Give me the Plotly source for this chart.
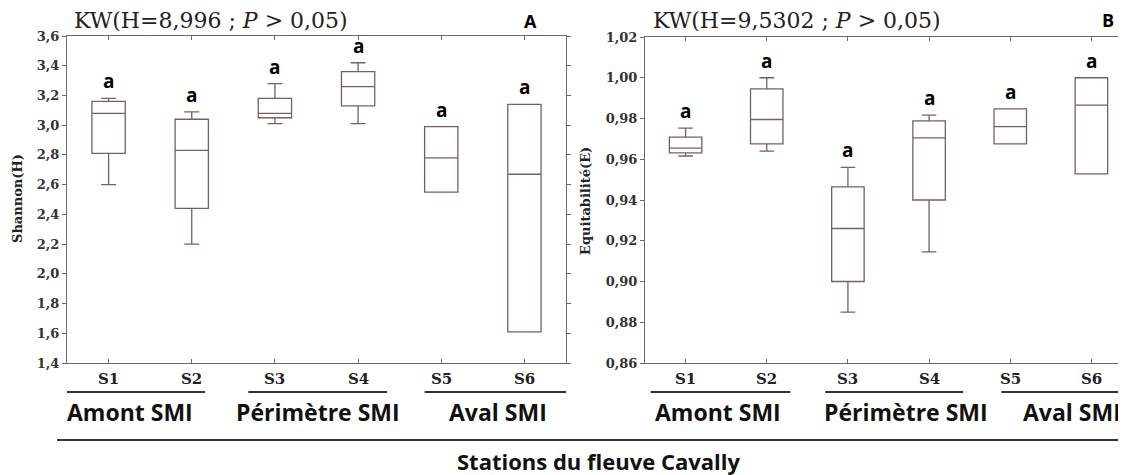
import plotly.graph_objects as go

W, H = 1126, 475
# the page adds an 8px body margin, so every position is taken back by that much
OFF = 8

stations = ['S1', 'S2', 'S3', 'S4', 'S5', 'S6']
groups = ['Amont SMI', 'Périmètre SMI', 'Aval SMI']

# Shannon (H) -- panel A
sh_low = [2.60, 2.20, 3.01, 3.01, 2.55, 1.61]
sh_q1 = [2.81, 2.44, 3.05, 3.13, 2.55, 1.61]
sh_med = [3.08, 2.83, 3.08, 3.26, 2.78, 2.67]
sh_q3 = [3.16, 3.04, 3.18, 3.36, 2.99, 3.14]
sh_high = [3.18, 3.09, 3.28, 3.42, 2.99, 3.14]

# Equitabilite (E) -- panel B
eq_low = [0.9616, 0.964, 0.885, 0.9145, 0.9675, 0.9528]
eq_q1 = [0.9631, 0.9675, 0.900, 0.940, 0.9675, 0.9528]
eq_med = [0.9655, 0.9795, 0.926, 0.9705, 0.976, 0.9866]
eq_q3 = [0.9709, 0.9945, 0.9464, 0.9788, 0.9847, 1.0]
eq_high = [0.9753, 1.0, 0.956, 0.9817, 0.9847, 1.0]

letters = ['a'] * 6

BOX_COLOR = '#7d5e5e'
AXIS_COLOR = '#6a6a6a'
SERIF = 'DejaVu Serif'
SANS = 'Open Sans'


def px(x):
    return (x - OFF) / W


def py(y):
    return 1 - (y - OFF) / H


def note(x, y, text, font, **kw):
    # paper-pixel annotation, anchored at its centre unless told otherwise
    kw.setdefault('xanchor', 'center')
    kw.setdefault('yanchor', 'middle')
    fig.add_annotation(x=px(x), y=py(y), xref='paper', yref='paper', text=text,
                       showarrow=False, font=font, **kw)


fig = go.Figure()

for low, q1, med, q3, high, xa, ya in [
    (sh_low, sh_q1, sh_med, sh_q3, sh_high, 'x', 'y'),
    (eq_low, eq_q1, eq_med, eq_q3, eq_high, 'x2', 'y2'),
]:
    fig.add_trace(go.Box(
        x=stations, q1=q1, median=med, q3=q3,
        lowerfence=low, upperfence=high,
        xaxis=xa, yaxis=ya,
        fillcolor='white',
        line=dict(color=BOX_COLOR, width=1.3),
        width=0.4, whiskerwidth=0.45,
        showlegend=False,
    ))
    for s, top, lt in zip(stations, high, letters):
        fig.add_annotation(
            x=s, y=top, xref=xa, yref=ya, text=lt, showarrow=False,
            xanchor='center', yanchor='bottom', yshift=2,
            font=dict(family=SANS, size=19, color='black', weight='bold'),
        )
    for s in stations:
        fig.add_annotation(
            x=s, y=py(379), xref=xa, yref='paper', text=s, showarrow=False,
            xanchor='center', yanchor='middle',
            font=dict(family=SERIF, size=15, color='#222', weight='bold'),
        )

tick_font = dict(family=SERIF, size=13, color='#333', weight='bold')
yax = dict(
    showline=True, linecolor=AXIS_COLOR, linewidth=1.2, mirror='ticks',
    ticks='outside', ticklen=4, tickcolor=AXIS_COLOR, showgrid=False,
    zeroline=False, tickfont=tick_font, automargin=False,
)
xax = dict(
    showline=True, linecolor=AXIS_COLOR, linewidth=1.2, mirror='ticks',
    ticks='inside', ticklen=4, tickcolor=AXIS_COLOR, showgrid=False,
    showticklabels=False, type='category', automargin=False, range=[-0.5, 5.5],
)

fig.update_layout(
    width=W, height=H,
    margin=dict(l=0, r=0, t=0, b=0, pad=0),
    paper_bgcolor='white', plot_bgcolor='white',
    separators=', ',
    xaxis=dict(xax, domain=[px(67), px(566)], anchor='y'),
    yaxis=dict(yax, domain=[py(363), py(36)], range=[1.4, 3.6], dtick=0.2,
               tick0=1.4, tickformat='.1f', anchor='x'),
    # panel B runs a few pixels past the right edge of the frame
    xaxis2=dict(xax, domain=[px(645), px(1132)], anchor='y2'),
    yaxis2=dict(yax, domain=[py(363), py(37)], range=[0.86, 1.02], dtick=0.02,
                tick0=0.86, tickformat='.2f', anchor='x2'),
)

# titles
title_font = dict(family=SERIF, size=22, color='#222')
note(72, 20, 'KW(H=8,996 ; <i>P</i> > 0,05)', title_font, xanchor='left')
note(651, 20, 'KW(H=9,5302 ; <i>P</i> > 0,05)', title_font, xanchor='left')
panel_font = dict(family=SANS, size=18, color='black', weight='bold')
note(530, 21, 'A', panel_font)
note(1108, 20, 'B', panel_font)

# y-axis titles
ytitle_font = dict(family=SERIF, size=13, color='#222', weight='bold')
note(17, 199, 'Shannon(H)', ytitle_font, textangle=-90)
note(585, 201, 'Equitabilité(E)', ytitle_font, textangle=-90)

# group underlines and labels
group_spans = {
    'x': [(-0.51, 1.16), (1.68, 3.35), (3.8, 5.52)],
    'x2': [(-0.43, 1.29), (1.72, 3.42), (3.89, 5.5)],
}
group_centers = {'x': [130, 318, 498], 'x2': [718, 906, 1072]}
group_font = dict(family=SANS, size=23, color='#111', weight='bold')
for xa in ['x', 'x2']:
    for (a, b), name, cx in zip(group_spans[xa], groups, group_centers[xa]):
        fig.add_shape(type='line', xref=xa, yref='paper', x0=a, x1=b,
                      y0=py(392), y1=py(392), line=dict(color='#333', width=2))
        note(cx, 412, name, group_font)

fig.add_shape(type='line', xref='paper', yref='paper', x0=px(57), x1=px(1122),
              y0=py(440), y1=py(440), line=dict(color='#333', width=2))
note(599, 461, 'Stations du fleuve Cavally', dict(group_font, size=22))

fig.write_html('out.html')
